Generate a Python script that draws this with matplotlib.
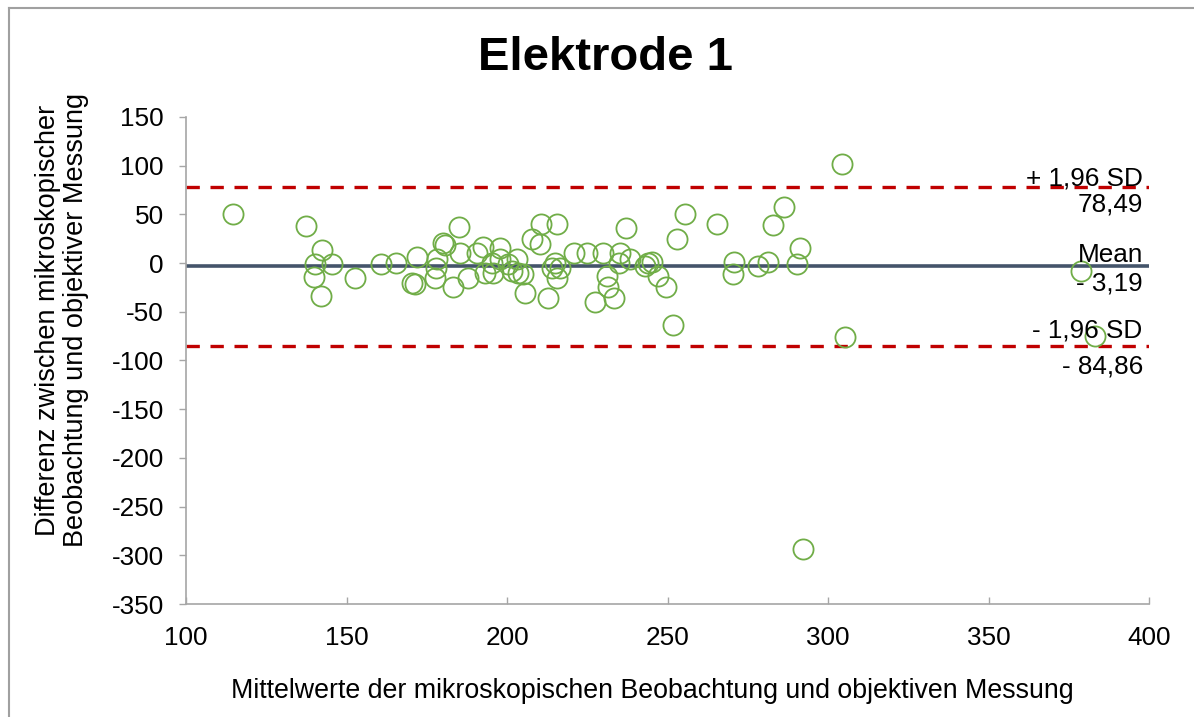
import matplotlib
matplotlib.use("Agg")
import matplotlib.pyplot as plt
from matplotlib.lines import Line2D
import matplotlib.transforms as mtransforms

plt.rcParams['font.family'] = ['Liberation Sans', 'DejaVu Sans']

title = "Elektrode 1"
xlabel = "Mittelwerte der mikroskopischen Beobachtung und objektiven Messung"
ylabel = "Differenz zwischen mikroskopischer\nBeobachtung und objektiver Messung"

mean_x = [114.7, 137.4, 142.4, 140.2, 145.4, 139.8, 142.0, 152.5, 160.6, 165.4,
          171.9, 170.3, 171.3, 178.1, 177.9, 177.6, 180.2, 180.8, 185.0, 183.3,
          185.4, 188.0, 190.6, 192.4, 197.8, 197.8, 195.2, 193.1, 195.7, 200.4,
          203.0, 201.5, 203.5, 205.1, 205.6, 207.7, 210.3, 210.5, 215.5, 212.9,
          215.0, 216.5, 213.9, 215.5, 220.9, 225.0, 230.0, 235.2, 235.0, 238.3,
          237.0, 231.0, 231.5, 227.5, 233.2, 243.0, 244.0, 245.2, 247.0, 249.5,
          252.9, 255.5, 251.8, 265.3, 270.8, 270.3, 278.3, 281.4, 282.8, 286.3,
          291.3, 290.2, 305.3, 304.3, 378.7, 383.2, 292.2]
diff_y = [50.6, 38.3, 13.7, -0.7, -0.7, -14.4, -33.5, -15.7, -0.7, 0.5,
          6.5, -20.0, -21.9, 4.0, -4.8, -15.0, 20.2, 19.0, 37.0, -25.0,
          10.6, -15.0, 10.6, 17.0, 15.7, 3.8, 0.3, -10.0, -10.0, -1.4,
          3.8, -8.2, -10.0, -11.6, -30.5, 24.3, 20.0, 39.7, 39.7, -35.6,
          0.3, -4.8, -4.8, -15.5, 10.6, 10.6, 10.6, 10.0, 0.3, 3.8,
          36.3, -13.3, -25.0, -40.0, -36.0, -3.0, 0.3, 1.0, -13.5, -25.0,
          24.3, 50.0, -64.0, 39.7, 1.0, -11.0, -3.0, 1.3, 38.7, 57.8,
          15.7, -0.7, -76.0, 102.0, -8.2, -75.0, -293.6]

mean_diff = -3.19
upper_loa = 78.49
lower_loa = -84.86

upper_labels = ["+ 1,96 SD", "78,49"]
mean_labels = ["Mean", "- 3,19"]
lower_labels = ["- 1,96 SD", "- 84,86"]

x_ticks = [100, 150, 200, 250, 300, 350, 400]
y_ticks = [150, 100, 50, 0, -50, -100, -150, -200, -250, -300, -350]

W, H = 1194, 717
fig = plt.figure(figsize=(W / 100, H / 100), dpi=100)
# chart-area border (only top and left edges visible in the reference)
fig.lines.append(Line2D([9 / W, 9 / W], [0, 1 - 8 / H], transform=fig.transFigure,
                        color='#A0A0A0', lw=1.5))
fig.lines.append(Line2D([9 / W, 1], [1 - 8 / H, 1 - 8 / H], transform=fig.transFigure,
                        color='#A0A0A0', lw=1.5))

ax = fig.add_axes([186 / W, 1 - 604 / H, (1149 - 186) / W, (604 - 117) / H])

ax.set_xlim(100, 400)
ax.set_ylim(-350, 150)
ax.set_xticks(x_ticks)
ax.set_yticks(y_ticks)
ax.set_xticklabels([str(v) for v in x_ticks])
ax.set_yticklabels([str(v) for v in y_ticks])

for s in ['top', 'right']:
    ax.spines[s].set_visible(False)
for s in ['left', 'bottom']:
    ax.spines[s].set_color('#A6A6A6')
    ax.spines[s].set_linewidth(1.2)

fs_tick = 18.8
ax.tick_params(axis='y', direction='out', length=5, width=1.0, color='#A6A6A6',
               labelsize=fs_tick, pad=11)
ax.tick_params(axis='x', direction='in', length=5, width=1.0, color='#A6A6A6',
               labelsize=fs_tick, pad=16)

ax.axhline(upper_loa, color='#C00000', lw=2.4, dashes=(4.0, 3.2), zorder=2)
ax.axhline(lower_loa, color='#C00000', lw=2.4, dashes=(4.0, 3.2), zorder=2)
ax.axhline(mean_diff, color='#44546A', lw=2.6, zorder=2)

ax.plot(mean_x, diff_y, linestyle='none', marker='o', markersize=14.5,
        markerfacecolor='none', markeredgecolor='#70AD47', markeredgewidth=1.3,
        zorder=3, clip_on=False)

trans = mtransforms.blended_transform_factory(ax.transAxes, ax.transData)
fs = 18.8


def label_pair(yval, top_text, bottom_text, up_off, down_off):
    ax.annotate(top_text, xy=(1, yval), xycoords=trans,
                xytext=(-4.5, up_off), textcoords='offset points',
                ha='right', va='baseline', fontsize=fs, color='black', zorder=4)
    ax.annotate(bottom_text, xy=(1, yval), xycoords=trans,
                xytext=(-4.5, -down_off), textcoords='offset points',
                ha='right', va='top', fontsize=fs, color='black', zorder=4)


label_pair(upper_loa, upper_labels[0], upper_labels[1], 0.5, 4.5)
label_pair(mean_diff, mean_labels[0], mean_labels[1], 3.0, 3.5)
label_pair(lower_loa, lower_labels[0], lower_labels[1], 6.0, 6.5)

fig.text(605 / W, 1 - 58 / H, title, ha='center', va='center',
         fontsize=34, fontweight='bold')
fig.text(652 / W, 1 - 691 / H, xlabel, ha='center', va='center', fontsize=19.3)
fig.text(62 / W, 1 - 320 / H, ylabel, ha='center', va='center', fontsize=19.5,
         rotation=90, linespacing=1.08)

fig.savefig("out.png", dpi=100)
